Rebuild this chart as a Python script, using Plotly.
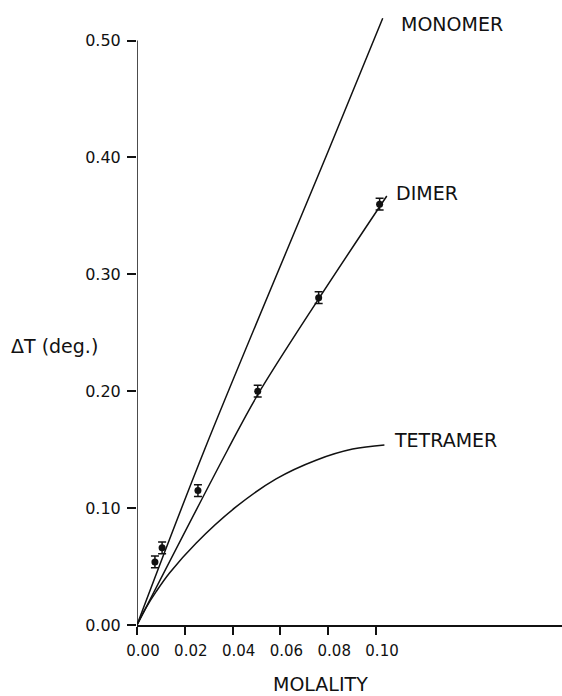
import plotly.graph_objects as go

# Freezing-point depression data (ΔT vs molality) with error bars
molality_obs = [0.0075, 0.0105, 0.0255, 0.0505, 0.0760, 0.1015]
dT_obs = [0.054, 0.066, 0.115, 0.200, 0.280, 0.360]
dT_err = [0.005, 0.005, 0.005, 0.005, 0.005, 0.005]

# Calculated curves for the three association models
monomer_m = [0.0, 0.0282, 0.0802, 0.1028]
monomer_dT = [0.0, 0.1497, 0.4063, 0.519]

dimer_m = [0.0, 0.0379, 0.0505, 0.0760, 0.1045]
dimer_dT = [0.0, 0.1497, 0.197, 0.279, 0.367]

tetramer_m = [0.0, 0.004, 0.008, 0.0136, 0.0247, 0.0414, 0.0582, 0.0749, 0.0902, 0.1035]
tetramer_dT = [0.0, 0.0155, 0.0285, 0.0445, 0.0700, 0.1010, 0.1250, 0.1410, 0.1505, 0.154]

curve_labels = ["MONOMER", "DIMER", "TETRAMER"]
x_ticks = [0.00, 0.02, 0.04, 0.06, 0.08, 0.10]
y_ticks = [0.00, 0.10, 0.20, 0.30, 0.40, 0.50]

FONT = "DejaVu Sans"
INK = "#111111"

fig = go.Figure()

for xs, ys in [(monomer_m, monomer_dT), (dimer_m, dimer_dT), (tetramer_m, tetramer_dT)]:
    fig.add_trace(go.Scatter(x=xs, y=ys, mode="lines",
                             line=dict(color=INK, width=1.5, shape="spline", smoothing=1.0),
                             showlegend=False, hoverinfo="skip"))

fig.add_trace(go.Scatter(
    x=molality_obs, y=dT_obs, mode="markers",
    marker=dict(color=INK, size=7),
    error_y=dict(type="data", array=dT_err, color=INK, thickness=1.5, width=4),
    showlegend=False))

# Curve labels placed just beyond each curve's end
label_pos = [(monomer_m[-1] + 0.007, 0.514),
             (dimer_m[-1] + 0.003, dimer_dT[-1] + 0.003),
             (tetramer_m[-1] + 0.0032, tetramer_dT[-1] + 0.004)]
for text, (lx, ly) in zip(curve_labels, label_pos):
    fig.add_annotation(x=lx, y=ly, xref="x", yref="y", text=text,
                       showarrow=False, xanchor="left", yanchor="middle",
                       font=dict(family=FONT, size=19, color=INK))

# Vertical axis line only up to the last tick
fig.add_shape(type="line", xref="x", yref="y", x0=0, x1=0, y0=0, y1=y_ticks[-1],
              line=dict(color=INK, width=1.5))

fig.add_annotation(x=-0.301, y=0.2387, xref="paper", yref="y", text="ΔT (deg.)",
                   showarrow=False, xanchor="left", yanchor="middle",
                   font=dict(family=FONT, size=19, color=INK))
fig.add_annotation(x=0.4306, y=-0.095, xref="paper", yref="paper", text="MOLALITY",
                   showarrow=False, xanchor="center", yanchor="middle",
                   font=dict(family=FONT, size=19, color=INK))

fig.update_xaxes(range=[0, 0.1778], tickvals=x_ticks, tickformat=".2f",
                 ticks="outside", ticklen=8, tickwidth=1.5, tickcolor=INK,
                 showline=True, linecolor=INK, linewidth=1.5,
                 showgrid=False, zeroline=False, ticklabelshift=6,
                 ticklabelstandoff=3,
                 tickfont=dict(family=FONT, size=15, color=INK))
fig.update_yaxes(range=[0, 0.5304], tickvals=y_ticks, tickformat=".2f",
                 ticks="outside", ticklen=9, tickwidth=1.5, tickcolor=INK,
                 showline=False, showgrid=False, zeroline=False,
                 ticklabelstandoff=3,
                 tickfont=dict(family=FONT, size=16, color=INK))

fig.update_layout(width=562, height=696,
                  margin=dict(l=137, r=0, t=5, b=71),
                  plot_bgcolor="white", paper_bgcolor="white")

fig.write_html("out.html")
